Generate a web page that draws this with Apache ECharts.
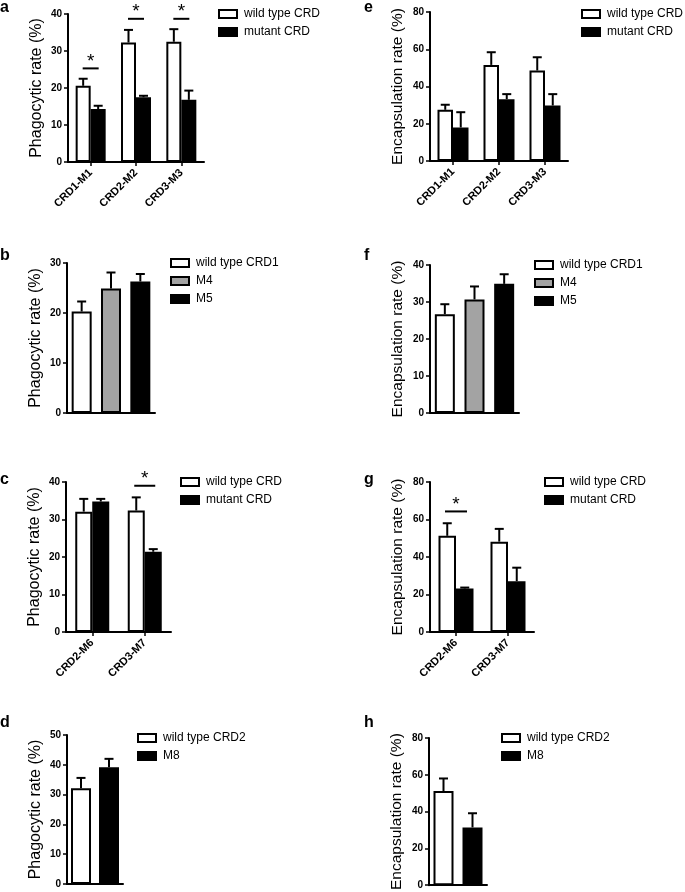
<!DOCTYPE html>
<html>
<head>
<meta charset="utf-8">
<script src="https://cdn.jsdelivr.net/npm/echarts@6/dist/echarts.min.js"></script>
<style>
  html, body { margin: 0; padding: 0; background: #fff; }
  #chart { width: 685px; height: 892px; }
</style>
</head>
<body>
<div id="chart"></div>
<script>
// panel a / e : CRD1-M1 .. CRD3-M3
var catsAE = ['CRD1-M1', 'CRD2-M2', 'CRD3-M3'];
var wildA = [20.6, 32.3, 32.5];
var wildErrA = [1.9, 3.4, 3.4];
var mutA = [14.3, 17.5, 16.8];
var mutErrA = [0.9, 0.4, 2.5];
var sigA = [[0, 25.3], [1, 38.7], [2, 38.7]];

var wildE = [27.5, 51.6, 48.6];
var wildErrE = [2.7, 6.8, 7.1];
var mutE = [18.0, 33.2, 29.8];
var mutErrE = [8.2, 2.7, 6.1];

// panel b / f : wild type CRD1, M4, M5
var namesBF = ['wild type CRD1', 'M4', 'M5'];
var valsB = [20.3, 24.9, 26.3];
var errsB = [2.0, 3.2, 1.5];
var valsF = [26.7, 30.7, 34.9];
var errsF = [2.7, 3.5, 2.6];

// panel c / g : CRD2-M6, CRD3-M7
var catsCG = ['CRD2-M6', 'CRD3-M7'];
var wildC = [32.1, 32.4];
var wildErrC = [3.4, 3.5];
var mutC = [34.8, 21.4];
var mutErrC = [0.7, 0.7];
var sigC = [[1, 39.0]];

var wildG = [51.3, 48.2];
var wildErrG = [6.7, 6.8];
var mutG = [23.2, 27.1];
var mutErrG = [0.5, 7.2];
var sigG = [[0, 64.3]];

// panel d / h : wild type CRD2, M8
var namesDH = ['wild type CRD2', 'M8'];
var valsD = [32.1, 39.2];
var errsD = [3.5, 2.8];
var valsH = [51.2, 31.4];
var errsH = [6.8, 7.7];

var FONT = 'Liberation Sans, Arial, sans-serif';
var chart = echarts.init(document.getElementById('chart'));

var grids = [
  { left: 68, top: 14, width: 136, height: 148 },   // a
  { left: 67, top: 263, width: 88, height: 150 },   // b
  { left: 66, top: 482, width: 105, height: 150 },  // c
  { left: 67, top: 735, width: 56, height: 149 },   // d
  { left: 430, top: 12, width: 138, height: 149 },  // e
  { left: 430, top: 265, width: 89, height: 148 },  // f
  { left: 430, top: 482, width: 104, height: 150 }, // g
  { left: 429, top: 738, width: 58, height: 148 }   // h
];

function xAx(gi, cats, labels) {
  return {
    type: 'category', gridIndex: gi, data: cats,
    axisLine: { lineStyle: { color: '#000', width: 2 } },
    axisTick: { show: labels, alignWithLabel: true, length: 4, lineStyle: { color: '#000', width: 1.5 } },
    axisLabel: { show: labels, interval: 0, rotate: 45, margin: 9, color: '#000',
      fontWeight: 'bold', fontSize: 11, fontFamily: FONT }
  };
}
function yAx(gi, max, interval, name, gap, size) {
  return {
    type: 'value', gridIndex: gi, min: 0, max: max, interval: interval,
    name: name, nameLocation: 'middle', nameGap: gap,
    nameTextStyle: { color: '#000', fontSize: size, fontFamily: FONT },
    axisLine: { show: true, lineStyle: { color: '#000', width: 2 } },
    axisTick: { show: true, length: 4, lineStyle: { color: '#000', width: 1.5 } },
    axisLabel: { color: '#000', fontWeight: 'bold', fontSize: 10, margin: 6, fontFamily: FONT },
    splitLine: { show: false }
  };
}

var PH = 'Phagocytic rate (%)', EN = 'Encapsulation rate (%)';
var xAxes = [
  xAx(0, catsAE, true), xAx(1, namesBF, false), xAx(2, catsCG, true), xAx(3, namesDH, false),
  xAx(4, catsAE, true), xAx(5, namesBF, false), xAx(6, catsCG, true), xAx(7, namesDH, false)
];
var yAxes = [
  yAx(0, 40, 10, PH, 23, 16), yAx(1, 30, 10, PH, 23, 16), yAx(2, 40, 10, PH, 23, 16), yAx(3, 50, 10, PH, 23, 16),
  yAx(4, 80, 20, EN, 24, 15.5), yAx(5, 40, 10, EN, 24, 15.5), yAx(6, 80, 20, EN, 24, 15.5), yAx(7, 80, 20, EN, 24, 15.5)
];

var fills = { 'wild type CRD': '#fff', 'mutant CRD': '#000', 'wild type CRD1': '#fff', 'M4': '#a3a3a3',
  'M5': '#000', 'wild type CRD2': '#fff', 'M8': '#000' };

var series = [];

function bar(gi, name, data, w, gap) {
  series.push({
    type: 'bar', name: name, data: data, xAxisIndex: gi, yAxisIndex: gi,
    barWidth: w, barGap: gap, silent: true,
    itemStyle: { color: fills[name], borderColor: '#000', borderWidth: 2 }
  });
}

function errBars(gi, vals, errs, offset) {
  var d = vals.map(function (v, i) { return [i, v, errs[i]]; });
  series.push({
    type: 'custom', xAxisIndex: gi, yAxisIndex: gi, data: d, silent: true, z: 5,
    renderItem: function (params, api) {
      var p0 = api.coord([api.value(0), api.value(1)]);
      var p1 = api.coord([api.value(0), api.value(1) + api.value(2)]);
      var x = p0[0] + offset;
      var st = { stroke: '#000', lineWidth: 2 };
      return { type: 'group', children: [
        { type: 'line', shape: { x1: x, y1: p0[1], x2: x, y2: p1[1] }, style: st },
        { type: 'line', shape: { x1: x - 4.5, y1: p1[1], x2: x + 4.5, y2: p1[1] }, style: st }
      ] };
    }
  });
}

function sig(gi, marks, w) {
  series.push({
    type: 'custom', xAxisIndex: gi, yAxisIndex: gi, data: marks, silent: true, z: 5,
    renderItem: function (params, api) {
      var p = api.coord([api.value(0), api.value(1)]);
      return { type: 'group', children: [
        { type: 'line', shape: { x1: p[0] - w / 2, y1: p[1], x2: p[0] + w / 2, y2: p[1] },
          style: { stroke: '#000', lineWidth: 2 } },
        { type: 'text', style: { text: '*', x: p[0], y: p[1] - 7, textAlign: 'center',
          textVerticalAlign: 'middle', fill: '#000', font: '19px ' + FONT } }
      ] };
    }
  });
}

function only(vals, i) { return vals.map(function (v, j) { return j === i ? v : '-'; }); }

// grouped panels
function grouped(gi, wild, wErr, mut, mErr, w) {
  bar(gi, 'wild type CRD', wild, w, 0);
  bar(gi, 'mutant CRD', mut, w, 0);
  errBars(gi, wild, wErr, -w / 2);
  errBars(gi, mut, mErr, w / 2);
}
grouped(0, wildA, wildErrA, mutA, mutErrA, 15);
sig(0, sigA, 16);
grouped(4, wildE, wildErrE, mutE, mutErrE, 15.5);
grouped(2, wildC, wildErrC, mutC, mutErrC, 17);
sig(2, sigC, 21);
grouped(6, wildG, wildErrG, mutG, mutErrG, 17.5);
sig(6, sigG, 22);

// single-bar-per-category panels
function singles(gi, names, vals, errs) {
  names.forEach(function (n, i) { bar(gi, n, only(vals, i), 20, '-100%'); });
  errBars(gi, vals, errs, 0);
}
singles(1, namesBF, valsB, errsB);
singles(5, namesBF, valsF, errsF);
singles(3, namesDH, valsD, errsD);
singles(7, namesDH, valsH, errsH);

function leg(names, left, top) {
  return {
    data: names, left: left, top: top, orient: 'vertical', selectedMode: false,
    icon: 'rect', itemWidth: 18, itemHeight: 8, itemGap: 6, padding: 0,
    textStyle: { color: '#000', fontSize: 12, fontFamily: FONT, padding: [0, 0, 0, 2] }
  };
}
var pair = ['wild type CRD', 'mutant CRD'];
var legends = [
  leg(pair, 218, 8), leg(pair, 581, 8),
  leg(namesBF, 170, 257), leg(namesBF, 534, 259),
  leg(pair, 180, 476), leg(pair, 544, 476),
  leg(namesDH, 137, 732), leg(namesDH, 501, 732)
];

function letter(t, x, y) {
  return { type: 'text', left: x, top: y, style: { text: t, fill: '#000', font: 'bold 16px ' + FONT } };
}

chart.setOption({
  animation: false,
  grid: grids,
  xAxis: xAxes,
  yAxis: yAxes,
  legend: legends,
  series: series,
  graphic: [
    letter('a', 0, 0), letter('b', 0, 248), letter('c', 0, 472), letter('d', 0, 715),
    letter('e', 364, 0), letter('f', 364, 248), letter('g', 364, 472), letter('h', 364, 715)
  ]
});
</script>
</body>
</html>
